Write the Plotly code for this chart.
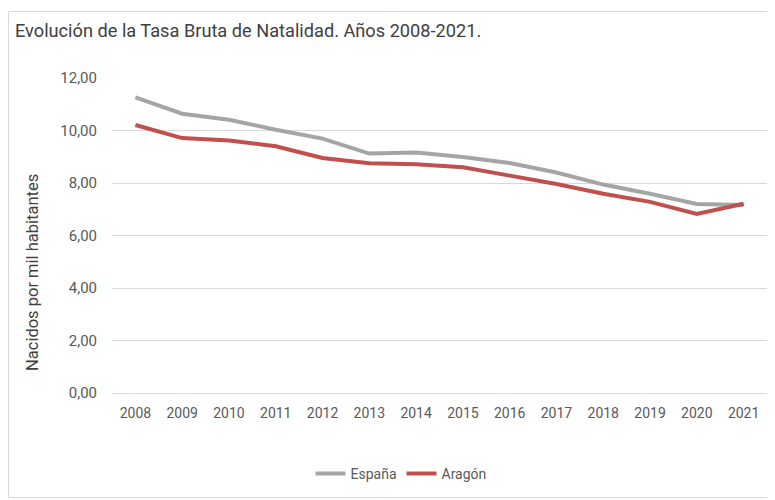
import plotly.graph_objects as go

years = ["2008", "2009", "2010", "2011", "2012", "2013", "2014",
         "2015", "2016", "2017", "2018", "2019", "2020", "2021"]
espana = [11.26, 10.64, 10.41, 10.03, 9.69, 9.12, 9.16,
          8.99, 8.76, 8.40, 7.94, 7.59, 7.20, 7.16]
aragon = [10.21, 9.71, 9.62, 9.40, 8.95, 8.75, 8.71,
          8.60, 8.28, 7.96, 7.59, 7.28, 6.82, 7.21]
y_ticks = [0, 2, 4, 6, 8, 10, 12]

FONT = "Roboto, Liberation Sans, sans-serif"
OFF = 8  # page body margin
W, H = 775 - OFF, 500 - OFF
# plot area in page pixels: x 112..767, y 78..393
PL, PR, PT, PB = 112, 767, 78, 393


def px_x(px):
    return (px - PL) / (PR - PL)


def px_y(py):
    return (PB - py) / (PB - PT)


fig = go.Figure()
fig.add_trace(go.Scatter(x=years, y=espana, name="España", mode="lines",
                         line=dict(color="#A5A5A5", width=4)))
fig.add_trace(go.Scatter(x=years, y=aragon, name="Aragón", mode="lines",
                         line=dict(color="#C0504D", width=4)))

fig.update_layout(
    width=W, height=H,
    margin=dict(l=PL - OFF, r=(W + OFF) - PR, t=PT - OFF, b=(H + OFF) - PB),
    paper_bgcolor="white", plot_bgcolor="white",
    separators=",.",
    font=dict(family=FONT, color="#595959", size=14),
    showlegend=True,
    legend=dict(orientation="h", x=px_x(401), y=px_y(474), xanchor="center",
                yanchor="middle", font=dict(size=14, color="#595959"),
                traceorder="normal", itemwidth=30),
    xaxis=dict(type="category", range=[-0.5, 13.5], showgrid=False,
               zeroline=False, showline=False, ticks="",
               tickfont=dict(size=14, color="#595959"), ticklabelstandoff=10),
    yaxis=dict(range=[0, 12.0], tickvals=y_ticks, tickformat=".2f",
               showgrid=True, gridcolor="#D9D9D9", gridwidth=1,
               zeroline=True, zerolinecolor="#D9D9D9", zerolinewidth=1,
               showline=False, ticks="", tickfont=dict(size=15, color="#595959"),
               ticklabelstandoff=14),
)

fig.add_annotation(text="Evolución de la Tasa Bruta de Natalidad. Años 2008-2021.",
                   xref="paper", yref="paper", x=px_x(13), y=px_y(30),
                   xanchor="left", yanchor="middle", showarrow=False,
                   font=dict(size=18.2, color="#404040", family=FONT))
fig.add_annotation(text="Nacidos por mil habitantes", textangle=-90,
                   xref="paper", yref="paper", x=px_x(32), y=px_y(273),
                   xanchor="center", yanchor="middle", showarrow=False,
                   font=dict(size=16.5, color="#404040", family=FONT))

fig.add_shape(type="rect", xref="paper", yref="paper",
              x0=px_x(8.5), x1=px_x(770.5), y0=px_y(497.5), y1=px_y(11.5),
              line=dict(color="#D9D9D9", width=1), fillcolor="rgba(0,0,0,0)",
              layer="below")

fig.write_html("out.html")
